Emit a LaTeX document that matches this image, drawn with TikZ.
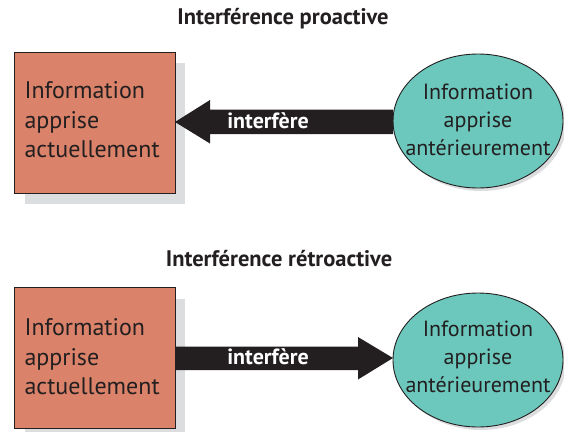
\documentclass[tikz,border=0pt]{standalone}
\usepackage{fontspec}
\setmainfont{PT Sans}
\usetikzlibrary{shapes.geometric}
\definecolor{boxfill}{HTML}{DA836A}
\definecolor{ovalfill}{HTML}{6CC8BC}
\definecolor{shadowgray}{HTML}{DCDDDF}
\definecolor{ink}{HTML}{231F20}
\tikzset{
  title/.style={font=\bfseries\fontsize{22.5}{26}\selectfont, text=ink},
  boxtext/.style={font=\fontsize{24}{29.5}\selectfont, text=ink, align=left},
  ovaltext/.style={font=\fontsize{22}{28}\selectfont, text=ink, align=center},
  boxshape/.style={draw=ink, line width=0.9pt, fill=boxfill},
  ovalshape/.style={draw=ink, line width=0.9pt, fill=ovalfill},
  dropshadow/.style={fill=shadowgray},
  arrowlabel/.style={font=\bfseries\fontsize{22}{24}\selectfont, text=white},
}
\begin{document}
\begin{tikzpicture}[x=1pt,y=-1pt]
\useasboundingbox (0,0) rectangle (564,431);

% ---- top panel: proactive interference
\node[title] (t1) at (283,19) {Interférence proactive};
\path[dropshadow] (25,63) rectangle (185,204);
\draw[boxshape] (14,52) rectangle (175,193);
\coordinate (b1e) at (175,122);
\node[boxtext, anchor=west] (b1) at (21,120) {Information\\apprise\\actuellement};
\path[dropshadow] (481,124) ellipse (85 and 67);
\draw[ovalshape] (478,121) ellipse (85 and 67);
\coordinate (o1w) at (393,122);
\node[ovaltext] (o1) at (478,120) {Information\\apprise\\antérieurement};
\fill[ink] (o1w) ++(0,-12.5) -- ++(-183,0) -- ++(0,-9.5) -- (b1e) -- ++(35,21.5) -- ++(0,-9.5) -- ++(183,0) -- cycle;
\node[arrowlabel] (l1) at (268,121) {interfère};

% ---- bottom panel: retroactive interference
\node[title] (t2) at (279,259) {Interférence rétroactive};
\path[dropshadow] (25,299) rectangle (185,440);
\draw[boxshape] (14,287) rectangle (175,428);
\coordinate (b2e) at (175,358);
\node[boxtext, anchor=west] (b2) at (21,357) {Information\\apprise\\actuellement};
\path[dropshadow] (481,363) ellipse (85 and 67);
\draw[ovalshape] (478,360) ellipse (85 and 67);
\coordinate (o2w) at (393,358);
\node[ovaltext] (o2) at (478,357) {Information\\apprise\\antérieurement};
\fill[ink] (b2e) ++(0,-11.5) -- ++(183,0) -- ++(0,-9.5) -- (o2w) -- ++(-35,21.5) -- ++(0,-9.5) -- ++(-183,0) -- cycle;
\node[arrowlabel] (l2) at (268,357) {interfère};
\end{tikzpicture}
\end{document}
